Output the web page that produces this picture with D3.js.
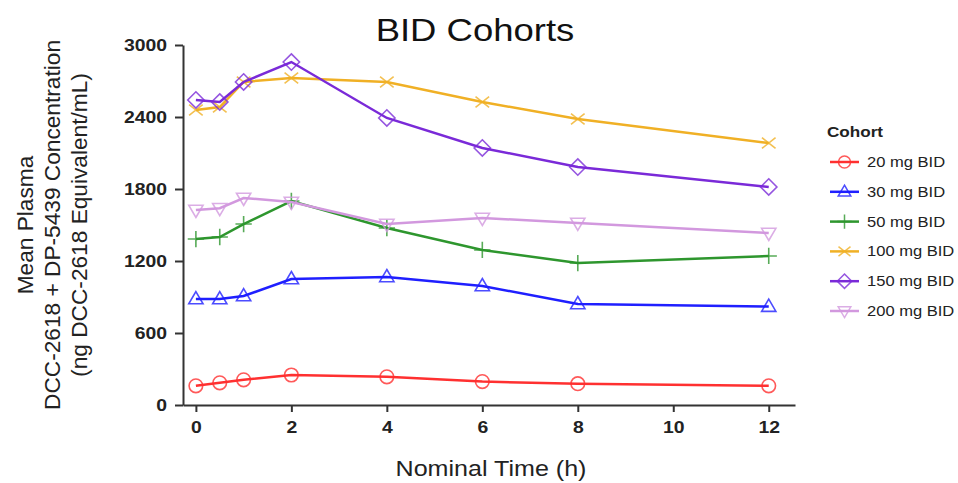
<!DOCTYPE html>
<html>
<head>
<meta charset="utf-8">
<script src="https://cdnjs.cloudflare.com/ajax/libs/d3/7.8.5/d3.min.js"></script>
<style>
  body { margin: 0; background: #fff; }
  text { font-family: "Liberation Sans", Arial, sans-serif; }
  .axis path, .axis line { stroke: #333; stroke-width: 2; }
  .axis text { font-size: 17px; font-weight: bold; fill: #222; }
</style>
</head>
<body>
<script>
// Data
var times = [0, 0.5, 1, 2, 4, 6, 8, 12];
var cohorts = ["20 mg BID", "30 mg BID", "50 mg BID", "100 mg BID", "150 mg BID", "200 mg BID"];
var mg20  = [160, 185, 210, 250, 235, 195, 178, 160];
var mg30  = [883, 883, 908, 1050, 1067, 992, 842, 820];
var mg50  = [1383, 1400, 1508, 1700, 1475, 1292, 1183, 1242];
var mg100 = [2458, 2483, 2692, 2725, 2692, 2525, 2383, 2183];
var mg150 = [2542, 2525, 2692, 2858, 2392, 2142, 1983, 1817];
var mg200 = [1625, 1640, 1725, 1692, 1508, 1558, 1517, 1433];
var xTicks = [0, 2, 4, 6, 8, 10, 12];
var yTicks = [0, 600, 1200, 1800, 2400, 3000];

var colors = ["#ff3030", "#1f1fff", "#2e962e", "#f0b025", "#7a2ad8", "#d298de"];
var shapes = ["circle", "triangle", "plus", "cross", "diamond", "down"];
var series = [mg20, mg30, mg50, mg100, mg150, mg200];

// the reference image is a bit wider than normal, so text is stretched
var stretch = 1.14;

window.onload = function() {
  drawChart();
};

// marker path centred on 0,0
function markerPath(shape, s) {
  if (shape == "circle") {
    return "M" + s + ",0A" + s + "," + s + " 0 1,1 " + (-s) + ",0A" + s + "," + s + " 0 1,1 " + s + ",0Z";
  } else if (shape == "triangle") {
    return "M0," + (-s * 1.1) + "L" + (s * 1.05) + "," + (s * 0.7) + "L" + (-s * 1.05) + "," + (s * 0.7) + "Z";
  } else if (shape == "down") {
    return "M0," + (s * 1.1) + "L" + (s * 1.05) + "," + (-s * 0.7) + "L" + (-s * 1.05) + "," + (-s * 0.7) + "Z";
  } else if (shape == "diamond") {
    return "M0," + (-s * 1.2) + "L" + (s * 1.2) + ",0L0," + (s * 1.2) + "L" + (-s * 1.2) + ",0Z";
  } else if (shape == "plus") {
    return "M0," + (-s * 1.2) + "V" + (s * 1.2) + "M" + (-s * 1.2) + ",0H" + (s * 1.2);
  } else {
    return "M" + (-s) + "," + (-s * 0.8) + "L" + s + "," + (s * 0.8) + "M" + (-s) + "," + (s * 0.8) + "L" + s + "," + (-s * 0.8);
  }
}

function widen(selection, factor) {
  selection.each(function() {
    var len = this.getComputedTextLength();
    d3.select(this)
      .attr("textLength", len * factor)
      .attr("lengthAdjust", "spacingAndGlyphs");
  });
}

function drawChart() {
  var width = 958;
  var height = 483;
  var svg = d3.select("body")
              .append("svg")
              .attr("width", width)
              .attr("height", height);

  var scaleX = d3.scaleLinear()
                 .domain([-0.27, 12.55])
                 .range([183, 795]);
  var scaleY = d3.scaleLinear()
                 .domain([0, 3000])
                 .range([405, 45]);

  // Axes
  var xAxis = d3.axisBottom(scaleX)
                .tickValues(xTicks)
                .tickSize(7)
                .tickSizeOuter(0)
                .tickPadding(9);
  var gx = svg.append("g")
     .attr("class", "axis")
     .attr("transform", "translate(0," + scaleY(0) + ")")
     .call(xAxis);

  var yAxis = d3.axisLeft(scaleY)
                .tickValues(yTicks)
                .tickFormat(d3.format("d"))
                .tickSize(8)
                .tickSizeOuter(0)
                .tickPadding(8);
  var gy = svg.append("g")
     .attr("class", "axis")
     .attr("transform", "translate(" + scaleX(-0.27) + ",0)")
     .call(yAxis);

  widen(gx.selectAll("text"), stretch);
  widen(gy.selectAll("text"), stretch);

  // Lines and markers
  var line = d3.line()
               .x(function(d, i) { return scaleX(times[i]); })
               .y(function(d) { return scaleY(d); });

  series.forEach(function(values, k) {
    svg.append("path")
       .attr("d", line(values))
       .attr("fill", "none")
       .attr("stroke", colors[k])
       .attr("stroke-width", 2.5);

    svg.selectAll(".m" + k)
       .data(values)
       .enter()
       .append("path")
       .attr("class", "m" + k)
       .attr("transform", function(d, i) {
         return "translate(" + scaleX(times[i]) + "," + scaleY(d) + ")";
       })
       .attr("d", markerPath(shapes[k], 6.8))
       .attr("fill", "none")
       .attr("stroke", colors[k])
       .attr("stroke-opacity", 0.8)
       .attr("stroke-width", 1.6);
  });

  // Title
  svg.append("text")
     .text("BID Cohorts")
     .attr("x", 475)
     .attr("y", 41)
     .attr("text-anchor", "middle")
     .style("font-size", "32px")
     .style("fill", "#111")
     .call(widen, stretch);

  // X label
  svg.append("text")
     .text("Nominal Time (h)")
     .attr("x", 491)
     .attr("y", 476)
     .attr("text-anchor", "middle")
     .style("font-size", "22px")
     .style("fill", "#222")
     .call(widen, stretch);

  // Y label
  var yLabels = ["Mean Plasma", "DCC-2618 + DP-5439 Concentration", "(ng DCC-2618 Equivalent/mL)"];
  var yl = svg.append("g")
     .attr("transform", "translate(0,225) rotate(-90)")
     .selectAll("text")
     .data(yLabels)
     .enter()
     .append("text")
     .text(function(d) { return d; })
     .attr("x", 0)
     .attr("y", function(d, i) { return 33 + i * 27; })
     .attr("text-anchor", "middle")
     .style("font-size", "22px")
     .style("fill", "#222");
  var longest = yl.nodes()[1].getComputedTextLength();
  widen(yl, 370 / longest);

  // Legend
  var legend = svg.append("g");
  legend.append("text")
        .text("Cohort")
        .attr("x", 827)
        .attr("y", 137)
        .style("font-size", "15px")
        .style("font-weight", "bold")
        .style("fill", "#222")
        .call(widen, stretch);

  var legendY = d3.scaleLinear().domain([0, 5]).range([162, 311]);
  cohorts.forEach(function(name, k) {
    var y = legendY(k);
    legend.append("line")
          .attr("x1", 830).attr("x2", 859)
          .attr("y1", y).attr("y2", y)
          .attr("stroke", colors[k])
          .attr("stroke-width", 2.5);
    legend.append("path")
          .attr("transform", "translate(844.5," + y + ")")
          .attr("d", markerPath(shapes[k], 6))
          .attr("fill", "none")
          .attr("stroke", colors[k])
          .attr("stroke-opacity", 0.8)
          .attr("stroke-width", 1.5);
    legend.append("text")
          .text(name)
          .attr("x", 867)
          .attr("y", y + 5)
          .style("font-size", "14.5px")
          .style("fill", "#222")
          .call(widen, stretch);
  });
}
</script>
</body>
</html>
